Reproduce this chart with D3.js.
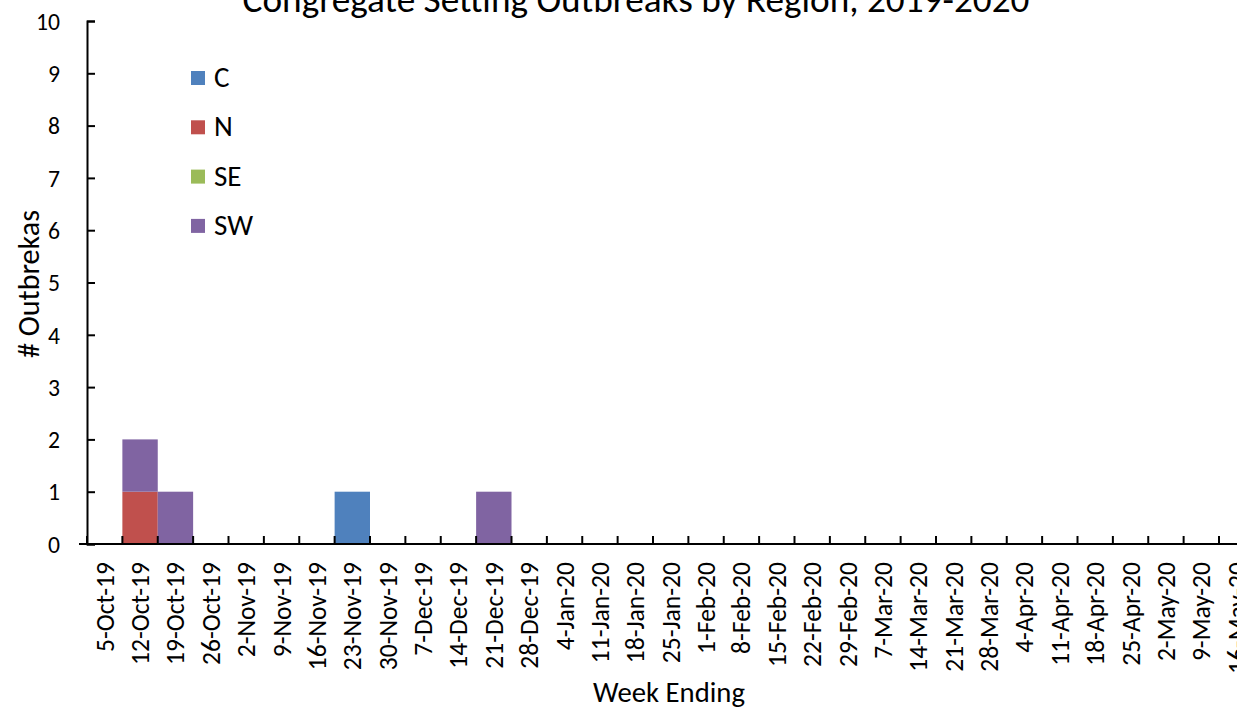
<!DOCTYPE html>
<html><head><meta charset="utf-8">
<script src="https://cdn.jsdelivr.net/npm/d3@7"></script>
<style>body{margin:0;background:#fff}svg{display:block}text{font-family:Carlito,Lato,"Liberation Sans",sans-serif;fill:#000}</style>
</head><body><svg id="c" width="1237" height="711"></svg>
<script>
const weeks = ["5-Oct-19","12-Oct-19","19-Oct-19","26-Oct-19","2-Nov-19","9-Nov-19","16-Nov-19","23-Nov-19","30-Nov-19","7-Dec-19","14-Dec-19","21-Dec-19","28-Dec-19","4-Jan-20","11-Jan-20","18-Jan-20","25-Jan-20","1-Feb-20","8-Feb-20","15-Feb-20","22-Feb-20","29-Feb-20","7-Mar-20","14-Mar-20","21-Mar-20","28-Mar-20","4-Apr-20","11-Apr-20","18-Apr-20","25-Apr-20","2-May-20","9-May-20","16-May-20"];
const regions = ["C","N","SE","SW"];
const colors = ["#4F81BD","#C0504D","#9BBB59","#8064A2"];
const seriesC  = [0,0,0,0,0,0,0,1,0,0,0,0,0,0,0,0,0,0,0,0,0,0,0,0,0,0,0,0,0,0,0,0,0];
const seriesN  = [0,1,0,0,0,0,0,0,0,0,0,0,0,0,0,0,0,0,0,0,0,0,0,0,0,0,0,0,0,0,0,0,0];
const seriesSE = [0,0,0,0,0,0,0,0,0,0,0,0,0,0,0,0,0,0,0,0,0,0,0,0,0,0,0,0,0,0,0,0,0];
const seriesSW = [0,1,1,0,0,0,0,0,0,0,0,1,0,0,0,0,0,0,0,0,0,0,0,0,0,0,0,0,0,0,0,0,0];
const yTicks = [0,1,2,3,4,5,6,7,8,9,10];
const title = "Congregate Setting Outbreaks by Region, 2019-2020";

const table = weeks.map((w,i)=>({week:w, C:seriesC[i], N:seriesN[i], SE:seriesSE[i], SW:seriesSW[i]}));
const svg = d3.select("#c");
const x0 = 87, x1 = 87 + 33*35.375, yb = 544, yt = 21;
const x = d3.scaleBand().domain(weeks).range([x0, x1]).padding(0);
const y = d3.scaleLinear().domain([0,10]).range([yb, yt]);
const stack = d3.stack().keys(regions)(table);

// font size that makes `sample` about `target` px wide
function fitSize(sample, target){
  const t = svg.append("text").style("font-size","100px").text(sample);
  const w = t.node().getComputedTextLength(); t.remove();
  return (100*target/w).toFixed(2)+"px";
}
const fsX = fitSize("5-Oct-19", 90);
const fsY = fitSize("10", 24);
const fsTitle = fitSize(title, 787);
const fsYT = fitSize("# Outbrekas", 148);
const fsXT = fitSize("Week Ending", 152);
const fsLg = fitSize("SW", 39);

svg.append("g").selectAll("g").data(stack).join("g")
  .attr("fill",(d,i)=>colors[i])
  .selectAll("rect").data(d=>d.filter(p=>p[1]-p[0]>0)).join("rect")
  .attr("x",d=>x(d.data.week)).attr("width",x.bandwidth())
  .attr("y",d=>y(d[1])).attr("height",d=>y(d[0])-y(d[1]));

// y axis
const ya = svg.append("g").attr("transform",`translate(${x0},0)`)
  .call(d3.axisLeft(y).tickValues(yTicks).tickSizeInner(-8).tickSizeOuter(-8).tickPadding(27));
ya.select(".domain").attr("stroke","#000").attr("stroke-width",2);
ya.selectAll(".tick line").attr("stroke","#000").attr("stroke-width",2);
ya.selectAll("text").style("font-size",fsY).style("font-family",null).attr("dy","0.35em");
ya.attr("font-family",null);

// x axis with ticks at band boundaries
const xa = svg.append("g").attr("transform",`translate(0,${yb})`);
xa.append("line").attr("x1",x0-8).attr("x2",x1).attr("stroke","#000").attr("stroke-width",2);
const bounds = weeks.map(w=>x(w)).concat([x1]);
xa.selectAll("line.t").data(bounds).join("line").attr("class","t")
  .attr("x1",d=>d).attr("x2",d=>d).attr("y1",0).attr("y2",-8).attr("stroke","#000").attr("stroke-width",2);
xa.selectAll("text.l").data(weeks).join("text").attr("class","l")
  .attr("transform",d=>`translate(${x(d)+x.bandwidth()/2},18) rotate(-90)`)
  .attr("dy","0.35em").attr("text-anchor","end").style("font-size",fsX).text(d=>d);

// titles
svg.append("text").attr("x",636).attr("y",12).attr("text-anchor","middle").style("font-size",fsTitle).text(title);
svg.append("text").attr("transform","translate(28,284) rotate(-90)").attr("dy","0.35em").attr("text-anchor","middle").style("font-size",fsYT).text("# Outbrekas");
svg.append("text").attr("x",669).attr("y",702).attr("text-anchor","middle").style("font-size",fsXT).text("Week Ending");

// legend
const lg = svg.append("g").selectAll("g").data(regions).join("g")
  .attr("transform",(d,i)=>`translate(191,${71+i*49.3})`);
lg.append("rect").attr("width",14).attr("height",14).attr("fill",(d,i)=>colors[i]);
lg.append("text").attr("x",23).attr("y",16).style("font-size",fsLg).text(d=>d);
</script></body></html>
